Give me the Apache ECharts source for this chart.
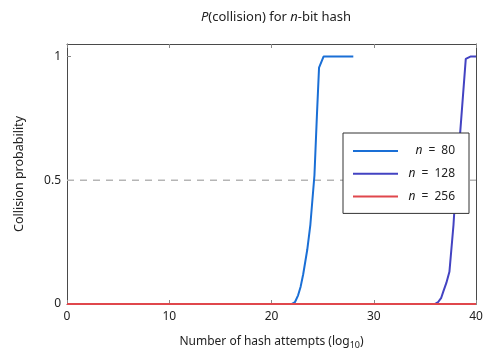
<!DOCTYPE html>
<html>
<head>
<meta charset="utf-8">
<script src="https://cdn.jsdelivr.net/npm/echarts@6/dist/echarts.min.js"></script>
<style>html,body{margin:0;padding:0;background:#fff}#c{width:484px;height:350px}</style>
</head>
<body>
<div id="c"></div>
<script>
// Data
var xs80  = [0, 5, 10, 15, 20, 21, 21.6, 22.0, 22.3, 22.6, 22.85, 23.1, 23.5, 23.8, 24.0, 24.2, 24.45, 24.65, 25.1, 26, 27, 28];
var p80   = [0, 0, 0, 0, 0, 0, 0, 0.001, 0.008, 0.035, 0.07, 0.12, 0.22, 0.32, 0.42, 0.52, 0.77, 0.955, 1.0, 1.0, 1.0, 1.0];
var xs128 = [0, 10, 20, 30, 35, 35.6, 36.0, 36.3, 36.6, 36.8, 37.1, 37.4, 37.8, 38.1, 38.43, 39.0, 39.5, 40];
var p128  = [0, 0, 0, 0, 0, 0, 0.001, 0.008, 0.025, 0.05, 0.085, 0.13, 0.32, 0.52, 0.68, 0.99, 1.0, 1.0];
var xs256 = [0, 40];
var p256  = [0, 0];
var refX  = [0, 40];
var refY  = [0.5, 0.5];
var xTicks = [0, 10, 20, 30, 40];
var yTicks = [0, 0.5, 1];
var names = ['n = 80', 'n = 128', 'n = 256'];
var colors = ['#1a6fd6', '#4343c2', '#e0474c'];

function pairs(xs, ys) { return xs.map(function (x, i) { return [x, ys[i]]; }); }

var FONT = 'Noto Sans';
var frame = '#4a4a4a';
var tickStyle = { show: true, inside: true, length: 4, lineStyle: { color: '#888', width: 1 } };

function xAx(pos, labels) {
  return {
    type: 'value', position: pos, min: 0, max: 40, interval: 10,
    axisLine: { show: true, onZero: false, lineStyle: { color: frame, width: 1 } },
    axisTick: tickStyle,
    axisLabel: { show: labels, color: '#222', fontFamily: FONT, fontSize: 12, margin: 7 },
    splitLine: { show: false }
  };
}
function yAx(pos, labels) {
  return {
    type: 'value', position: pos, min: 0, max: 1.05,
    axisLine: { show: true, onZero: false, lineStyle: { color: frame, width: 1 } },
    axisTick: { show: true, inside: true, length: 4, lineStyle: { color: '#888', width: 1 }, customValues: yTicks },
    axisLabel: { show: labels, color: '#222', fontFamily: FONT, fontSize: 12, margin: 6, customValues: yTicks,
      formatter: function (v) { return String(v); } },
    splitLine: { show: false }
  };
}

var xBottom = xAx('bottom', true);
xBottom.name = 'Number of hash attempts (log{s|10})';
xBottom.nameLocation = 'middle';
xBottom.nameGap = 30;
xBottom.nameTextStyle = { color: '#222', fontFamily: FONT, fontSize: 12,
  rich: { s: { fontSize: 9, fontFamily: FONT, color: '#222', padding: [7, 0, 0, 0] } } };

var yLeft = yAx('left', true);
yLeft.name = 'Collision probability';
yLeft.nameLocation = 'middle';
yLeft.nameGap = 41;
yLeft.nameTextStyle = { color: '#222', fontFamily: FONT, fontSize: 12.5 };

var series = [
  { name: '_ref', type: 'line', data: pairs(refX, refY), symbol: 'none', silent: true,
    lineStyle: { color: '#b5b5b5', width: 1.4, type: [7, 6] }, z: 1 },
  { name: names[0], type: 'line', data: pairs(xs80, p80), symbol: 'none', smooth: false,
    lineStyle: { color: colors[0], width: 2 }, itemStyle: { color: colors[0] }, z: 2 },
  { name: names[1], type: 'line', data: pairs(xs128, p128), symbol: 'none', smooth: false,
    lineStyle: { color: colors[1], width: 2 }, itemStyle: { color: colors[1] }, z: 3 },
  { name: names[2], type: 'line', data: pairs(xs256, p256), symbol: 'none',
    lineStyle: { color: colors[2], width: 2 }, itemStyle: { color: colors[2] }, z: 4 }
];

var chart = echarts.init(document.getElementById('c'), null, { renderer: 'canvas' });
chart.setOption({
  animation: false,
  backgroundColor: '#fff',
  title: {
    text: '{i|P}(collision) for {i|n}-bit hash',
    left: 271, top: 6, textAlign: 'center',
    textStyle: { fontFamily: FONT, fontSize: 13, fontWeight: 'normal', color: '#222',
      rich: { i: { fontStyle: 'italic', fontFamily: FONT, fontSize: 13, color: '#222' } } }
  },
  grid: { left: 67, right: 8, top: 44, bottom: 46, containLabel: false, outerBoundsMode: 'none' },
  legend: {
    data: names, orient: 'vertical', left: 343, top: 133,
    icon: 'rect',
    padding: [11, 14, 10, 10], itemGap: 8.7, itemWidth: 45, itemHeight: 2,
    backgroundColor: '#fff', borderColor: '#333', borderWidth: 1, borderRadius: 0,
    formatter: function (name) {
      var parts = name.split(' = ');
      return '{i|n}{t|\u2002=\u2002' + parts[1] + '}';
    },
    textStyle: { fontFamily: FONT, fontSize: 12, color: '#222', width: 52, lineHeight: 14,
      rich: { i: { fontStyle: 'italic', fontFamily: FONT, fontSize: 12, color: '#222', align: 'right', lineHeight: 14 },
              t: { fontFamily: FONT, fontSize: 12, color: '#222', align: 'right', lineHeight: 14 } } }
  },
  xAxis: [xBottom, xAx('top', false)],
  yAxis: [yLeft, yAx('right', false)],
  series: series
});
</script>
</body>
</html>
